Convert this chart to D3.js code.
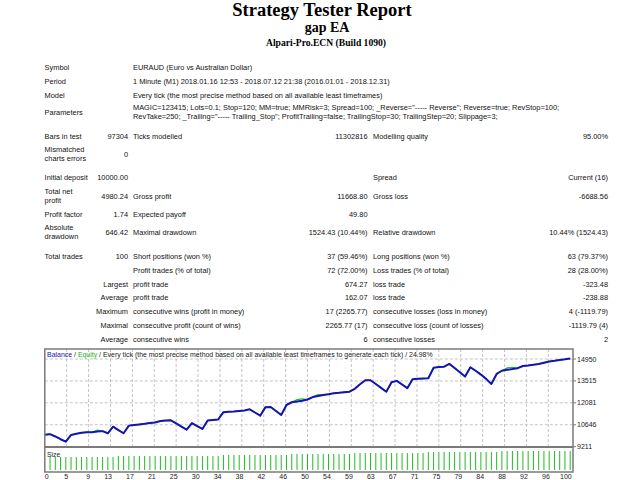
<!DOCTYPE html>
<html><head><meta charset="utf-8">
<script src="https://cdn.jsdelivr.net/npm/d3@7"></script>
<style>body{margin:0;background:#fff}svg{display:block}</style>
</head><body><svg id="c" width="640" height="480"></svg>
<script>
// ---------- DATA ----------
const titleMain = "Strategy Tester Report";
const titleEA = "gap EA";
const titleServer = "Alpari-Pro.ECN (Build 1090)";

const headerRows = [
  ["Symbol", ["EURAUD (Euro vs Australian Dollar)"]],
  ["Period", ["1 Minute (M1) 2018.01.16 12:53 - 2018.07.12 21:38 (2016.01.01 - 2018.12.31)"]],
  ["Model", ["Every tick (the most precise method based on all available least timeframes)"]],
  ["Parameters", ["MAGIC=123415; Lots=0.1; Stop=120; MM=true; MMRisk=3; Spread=100; _Reverse=\"----- Reverse\"; Reverse=true; RevStop=100;",
                  "RevTake=250; _Trailing=\"----- Trailing_Stop\"; ProfitTrailing=false; TrailingStop=30; TrailingStep=20; Slippage=3;"]]
];

const statRows = [
  ["Bars in test", "97304", "Ticks modelled", "11302816", "Modelling quality", "95.00%"],
  ["Mismatched\ncharts errors", "0", "", "", "", ""],
  ["Initial deposit", "10000.00", "", "", "Spread", "Current (16)"],
  ["Total net\nprofit", "4980.24", "Gross profit", "11668.80", "Gross loss", "-6688.56"],
  ["Profit factor", "1.74", "Expected payoff", "49.80", "", ""],
  ["Absolute\ndrawdown", "646.42", "Maximal drawdown", "1524.43 (10.44%)", "Relative drawdown", "10.44% (1524.43)"],
  ["Total trades", "100", "Short positions (won %)", "37 (59.46%)", "Long positions (won %)", "63 (79.37%)"],
  ["", "", "Profit trades (% of total)", "72 (72.00%)", "Loss trades (% of total)", "28 (28.00%)"],
  ["", "Largest", "profit trade", "674.27", "loss trade", "-323.48"],
  ["", "Average", "profit trade", "162.07", "loss trade", "-238.88"],
  ["", "Maximum", "consecutive wins (profit in money)", "17 (2265.77)", "consecutive losses (loss in money)", "4 (-1119.79)"],
  ["", "Maximal", "consecutive profit (count of wins)", "2265.77 (17)", "consecutive loss (count of losses)", "-1119.79 (4)"],
  ["", "Average", "consecutive wins", "6", "consecutive losses", "2"]
];

const chartCaption = ["Balance", "Equity", "Every tick (the most precise method based on all available least timeframes to generate each tick)", "24.98%"];

const trades = d3.range(0, 101);
const balance = [10000,10030,9880,9700,9540,9980,10060,10120,10160,10150,
  10200,10230,10090,10520,10300,10090,10590,10630,10670,10710,
  10760,10800,10890,10920,10940,10740,10530,10330,10760,10560,
  10370,10930,10960,10990,11470,11500,11520,11550,11580,11660,
  11450,11240,11800,11810,11550,11290,11940,12120,12170,12220,
  12300,12460,12530,12600,12650,12710,12740,12780,12810,13000,
  13300,13560,13560,13310,13060,12810,13430,13520,13280,13040,
  13620,13650,13670,13690,14380,14420,14450,14630,14360,14080,
  13800,14410,14180,13930,13650,13320,13970,14180,14240,14290,
  14350,14490,14530,14580,14620,14700,14780,14830,14890,14930,14980.24];
const equity = [10000,10030,9880,9700,9540,9980,10060,10120,10160,10150,
  10300,10230,10090,10520,10300,10090,10590,10630,10670,10710,
  10760,10800,10890,10920,10940,10740,10530,10330,10760,10560,
  10370,10930,10960,10990,11470,11500,11520,11550,11580,11660,
  11450,11240,11800,11810,11550,11290,11940,12120,12290,12340,
  12300,12460,12620,12600,12650,12710,12740,12780,12810,13000,
  13300,13560,13560,13310,13060,12810,13430,13520,13280,13040,
  13620,13650,13670,13690,14380,14420,14450,14630,14360,14080,
  13800,14410,14180,13930,13650,13320,13970,14180,14370,14410,
  14350,14490,14530,14580,14620,14700,14780,14830,14890,14930,14980.24];
const sizeTrades = d3.range(1, 101);
const sizes = [0.13,0.13,0.13,0.13,0.13,0.13,0.13,0.13,0.13,0.13,0.13,0.13,0.13,
  0.14,0.14,0.14,0.14,0.14,0.14,0.14,0.14,0.14,0.14,0.14,0.14,0.14,0.14,0.14,0.14,0.14,0.14,0.14,0.14,
  0.15,0.15,0.15,0.15,0.15,0.15,0.15,0.15,0.15,0.15,0.15,0.15,0.15,
  0.16,0.16,0.16,0.16,0.16,0.16,0.16,0.16,0.16,0.16,0.16,0.16,
  0.17,0.17,0.17,0.17,0.17,0.17,0.17,0.17,0.17,0.17,0.17,0.17,0.17,0.17,
  0.18,0.18,0.18,0.18,0.18,0.18,0.18,0.18,0.18,0.18,0.18,0.18,0.18,0.18,
  0.19,0.19,0.19,0.19,0.19,0.19,0.19,0.19,0.19,0.19,0.19,0.19,0.19,0.19];
const xTickLabels = ["0","5","9","13","17","21","25","30","34","38","42","46","50","54","59","63","67","71","75","79","84","88","92","96","100"];
const yTickValues = [9211, 10646, 12081, 13515, 14950];

// ---------- DRAW ----------
(function () {
const svg = d3.select("#c");
const sans = "'Liberation Sans', Arial, sans-serif";
const serif = "'Liberation Serif', 'Times New Roman', serif";
const FS = 7.4;

svg.append("text").attr("x", 322).attr("y", 16).attr("text-anchor", "middle")
  .attr("font-family", serif).attr("font-weight", "bold").attr("font-size", 18.5).text(titleMain);
svg.append("text").attr("x", 327).attr("y", 32).attr("text-anchor", "middle")
  .attr("font-family", serif).attr("font-weight", "bold").attr("font-size", 14).text(titleEA);
svg.append("text").attr("x", 326).attr("y", 46).attr("text-anchor", "middle")
  .attr("font-family", serif).attr("font-weight", "bold").attr("font-size", 9.6).text(titleServer);

const cL1 = 44.6, cV1 = 128, cL2 = 133, cV2 = 367.5, cL3 = 373, cV3 = 608;
const txt = (x, y, s, anchor) => svg.append("text").attr("x", x).attr("y", y + 2.5)
  .attr("text-anchor", anchor || "start").attr("font-family", sans).attr("font-size", FS)
  .attr("fill", "#111").text(s);
const multi = (x, y, s, anchor) => {
  const parts = s.split("\n");
  if (parts.length === 1) { txt(x, y, s, anchor); return; }
  parts.forEach((p, i) => txt(x, y + (i - (parts.length - 1) / 2) * 9, p, anchor));
};

const headerY = [67.5, 81.5, 95.5, 112];
headerRows.forEach((r, i) => {
  txt(cL1, headerY[i], r[0]);
  r[1].forEach((line, j) => txt(cL2, headerY[i] + (j - (r[1].length - 1) / 2) * 9.5, line));
});

const statY = [136, 154, 177.7, 196, 214.3, 232.3, 256, 270.7, 284, 297.7, 311.7, 325.3, 339];
statRows.forEach((r, i) => {
  const yy = statY[i];
  multi(cL1, yy, r[0]);
  txt(cV1, yy, r[1], "end");
  txt(cL2, yy, r[2]);
  txt(cV2, yy, r[3], "end");
  txt(cL3, yy, r[4]);
  txt(cV3, yy, r[5], "end");
});

// chart
const pLeft = 44.8, pRight = 573, pTop = 349, pSep = 447, pBottom = 472;
const x = d3.scaleLinear().domain([0, 100]).range([pLeft, 570.2]);
const y = d3.scaleLinear().domain([9211, 14950]).range([446.7, 359]);
const ys = d3.scaleLinear().domain([0, 0.23]).range([470, 447]);

const g = svg.append("g");
const xTickVals = xTickLabels.map((_, i) => i * 100 / 24);
g.selectAll("line.vg").data(xTickVals.slice(1, -1)).enter().append("line")
  .attr("x1", d => x(d)).attr("x2", d => x(d)).attr("y1", pTop).attr("y2", pSep)
  .attr("stroke", "#c4c4c4").attr("stroke-width", 1).attr("stroke-dasharray", "3,2");
g.selectAll("line.hg").data(yTickValues.slice(1)).enter().append("line")
  .attr("x1", pLeft).attr("x2", pRight).attr("y1", d => y(d)).attr("y2", d => y(d))
  .attr("stroke", "#c4c4c4").attr("stroke-width", 1).attr("stroke-dasharray", "3,2");

g.selectAll("line.sz").data(sizes).enter().append("line")
  .attr("x1", (d, i) => x(sizeTrades[i])).attr("x2", (d, i) => x(sizeTrades[i]))
  .attr("y1", ys(0)).attr("y2", d => ys(d))
  .attr("stroke", "#22bb22").attr("stroke-width", 1);

const line = d3.line().x((d, i) => x(trades[i])).y(d => y(d));
g.append("path").datum(equity).attr("d", line).attr("fill", "none")
  .attr("stroke", "#22c022").attr("stroke-width", 1.2);
g.append("path").datum(balance).attr("d", line).attr("fill", "none")
  .attr("stroke", "#1414b4").attr("stroke-width", 2).attr("stroke-linejoin", "round");

g.append("rect").attr("x", pLeft).attr("y", pTop).attr("width", pRight - pLeft).attr("height", pBottom - pTop)
  .attr("fill", "none").attr("stroke", "#7a7a7a").attr("stroke-width", 1.5);
g.append("line").attr("x1", pLeft).attr("x2", pRight).attr("y1", pSep).attr("y2", pSep)
  .attr("stroke", "#7a7a7a").attr("stroke-width", 2);

const cap = svg.append("text").attr("x", 47).attr("y", 357).attr("font-family", sans).attr("font-size", 6.95);
cap.append("tspan").attr("fill", "#1414b4").text(chartCaption[0]);
cap.append("tspan").attr("fill", "#222").text(" / ");
cap.append("tspan").attr("fill", "#22b022").text(chartCaption[1]);
cap.append("tspan").attr("fill", "#222").text(" / " + chartCaption[2] + " / " + chartCaption[3]);

svg.append("text").attr("x", 47).attr("y", 456.5).attr("font-family", sans).attr("font-size", 6.8)
  .attr("fill", "#222").text("Size");

svg.selectAll("text.yl").data(yTickValues).enter().append("text")
  .attr("x", 577).attr("y", d => y(d) + 2.5).attr("font-family", sans).attr("font-size", 7)
  .attr("fill", "#222").text(d => d);
svg.selectAll("line.yt").data(yTickValues).enter().append("line")
  .attr("x1", pRight).attr("x2", pRight + 3).attr("y1", d => y(d)).attr("y2", d => y(d))
  .attr("stroke", "#7a7a7a");

svg.selectAll("text.xl").data(xTickVals).enter().append("text")
  .attr("x", (d, i) => i === 0 ? pLeft : x(d) + 1.5).attr("y", 478.5)
  .attr("text-anchor", (d, i) => i === 0 ? "start" : "end")
  .attr("font-family", sans).attr("font-size", 7).attr("fill", "#222")
  .text((d, i) => xTickLabels[i]);
})();
</script></body></html>
